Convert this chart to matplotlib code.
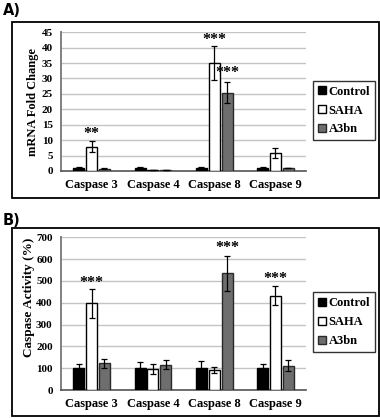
import matplotlib
matplotlib.use("Agg")
import matplotlib.pyplot as plt
from matplotlib.patches import Rectangle
import numpy as np

categories = ["Caspase 3", "Caspase 4", "Caspase 8", "Caspase 9"]
groups = ["Control", "SAHA", "A3bn"]

# panel A - mRNA fold change
mrna_control = [1.0, 1.0, 1.0, 1.0]
mrna_saha = [7.9, 0.2, 35.0, 5.9]
mrna_a3bn = [0.7, 0.4, 25.4, 0.9]
mrna_control_err = [0.15, 0.15, 0.15, 0.15]
mrna_saha_err = [1.9, 0.05, 5.5, 1.7]
mrna_a3bn_err = [0.1, 0.05, 3.4, 0.1]
# (category index, series index, label, y)
mrna_stars = [(0, 1, "**", 12.0), (2, 1, "***", 42.5), (2, 2, "***", 31.9)]

# panel B - caspase activity
act_control = [100, 100, 100, 100]
act_saha = [397, 97, 92, 432]
act_a3bn = [122, 116, 534, 112]
act_control_err = [20, 30, 33, 18]
act_saha_err = [66, 24, 14, 43]
act_a3bn_err = [22, 22, 79, 27]
act_stars = [(0, 1, "***", 492), (2, 2, "***", 653), (3, 1, "***", 511)]

colors = ["#000000", "#ffffff", "#6e6e6e"]
edges = ["#000000", "#000000", "#2a2a2a"]
serif = "Liberation Serif"

fig = plt.figure(figsize=(3.8, 4.19), dpi=100)

# outer frames
for (x0, y0, w, h) in [(0.0316, 0.527, 0.966, 0.42), (0.0316, 0.0072, 0.966, 0.449)]:
    fig.patches.append(Rectangle((x0, y0), w, h, transform=fig.transFigure,
                                 fill=False, edgecolor="black", linewidth=1.3))

fig.text(0.008, 0.974, "A)", fontsize=10.5, fontweight="bold", family="DejaVu Sans",
         va="center", ha="left")
fig.text(0.008, 0.474, "B)", fontsize=10.5, fontweight="bold", family="DejaVu Sans",
         va="center", ha="left")


def draw_panel(rect, series, errs, stars, ymax, ystep, ylabel, leg_anchor,
               label_size, label_xy):
    ax = fig.add_axes(rect)
    x = np.arange(len(categories))
    offs = [-0.21, 0.0, 0.21]
    for i, (vals, err) in enumerate(zip(series, errs)):
        ax.bar(x + offs[i], vals, width=0.18, color=colors[i], edgecolor=edges[i],
               linewidth=1.0, label=groups[i], zorder=3)
        ax.errorbar(x + offs[i], vals, yerr=err, fmt="none", ecolor="black",
                    elinewidth=0.9, capsize=2.2, capthick=0.9, zorder=4)
    for ci, si, s, yy in stars:
        ax.text(x[ci] + offs[si], yy, s, ha="center", va="center", fontsize=11.5,
                fontweight="bold", family=serif)
    ax.set_xlim(-0.5, len(categories) - 0.5)
    ax.set_ylim(0, ymax)
    ax.set_yticks(np.arange(0, ymax + 1, ystep))
    ax.yaxis.grid(True, color="#c4c4c4", linewidth=1.0, zorder=0)
    ax.set_axisbelow(True)
    ax.set_xticks(x)
    ax.set_xticklabels(categories, fontsize=9, fontweight="bold", family=serif)
    for lab in ax.get_yticklabels():
        lab.set_fontsize(8)
        lab.set_fontweight("bold")
        lab.set_family(serif)
    ax.tick_params(axis="both", length=0)
    ax.tick_params(axis="y", pad=6)
    ax.tick_params(axis="x", pad=6)
    ax.spines["top"].set_visible(False)
    ax.spines["right"].set_visible(False)
    ax.spines["left"].set_color("#808080")
    ax.spines["left"].set_linewidth(1.4)
    ax.spines["bottom"].set_color("#555555")
    ax.spines["bottom"].set_linewidth(1.2)
    ax.set_ylabel(ylabel, fontsize=label_size, fontweight="bold", family=serif)
    ax.yaxis.set_label_coords(*label_xy)
    leg = ax.legend(loc="center left", bbox_to_anchor=leg_anchor,
                    bbox_transform=fig.transFigure, frameon=True, fancybox=False,
                    prop={"family": serif, "weight": "bold", "size": 9},
                    handlelength=0.6, handleheight=0.6, handletextpad=0.25,
                    labelspacing=0.55, borderpad=0.4, borderaxespad=0)
    leg.get_frame().set_edgecolor("black")
    leg.get_frame().set_linewidth(1.0)
    return ax


draw_panel([0.1605, 0.592, 0.645, 0.331],
           [mrna_control, mrna_saha, mrna_a3bn],
           [mrna_control_err, mrna_saha_err, mrna_a3bn_err],
           mrna_stars, 45, 5, "mRNA Fold Change", (0.824, 0.736), 9, (-0.09, 0.5))

draw_panel([0.1605, 0.0692, 0.645, 0.3645],
           [act_control, act_saha, act_a3bn],
           [act_control_err, act_saha_err, act_a3bn_err],
           act_stars, 700, 100, "Caspase Activity (%)", (0.824, 0.231), 9.5,
           (-0.105, 0.61))

fig.savefig("out.png", dpi=100)
